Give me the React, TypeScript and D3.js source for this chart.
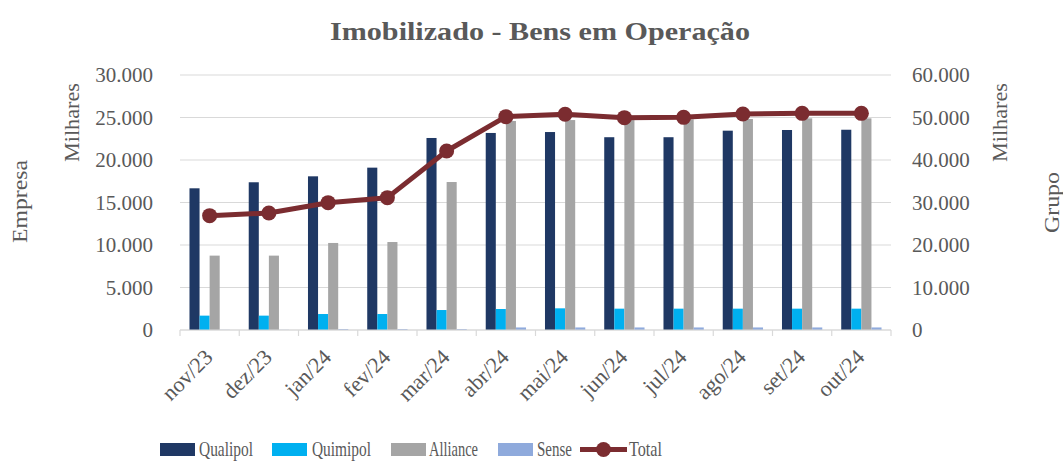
import React from "react";
import * as d3 from "d3";

const categories = ["nov/23","dez/23","jan/24","fev/24","mar/24","abr/24","mai/24","jun/24","jul/24","ago/24","set/24","out/24"];
const qualipol = [16670,17380,18080,19100,22590,23180,23290,22680,22680,23450,23530,23560];
const quimipol = [1690,1690,1880,1880,2350,2470,2550,2510,2510,2510,2510,2510];
const alliance = [8750,8750,10240,10350,17410,24590,24700,24700,24780,24820,24900,24900];
const sense = [20,20,100,100,100,300,300,300,300,300,300,300];
const total = [26900,27530,29960,31140,42120,50200,50750,49960,50040,50820,50980,50980];
const leftTicks = [0,5000,10000,15000,20000,25000,30000];
const rightTicks = [0,10000,20000,30000,40000,50000,60000];

const seriesNames = ["Qualipol","Quimipol","Alliance","Sense"];
const seriesColors = ["#1F3864","#00B0F0","#A5A5A5","#8FAADC"];
const lineColor = "#7B2C30";

const fmt = (v: number) => (v === 0 ? "0" : d3.format(",")(v).replace(/,/g, "."));

export default function App() {
  const W = 1063, H = 462;
  const x0 = 180, x1 = 891, yTop = 75, yBot = 330;
  const font = "'Liberation Serif', 'Times New Roman', serif";
  const textColor = "#595959";
  const x = d3.scaleBand<string>().domain(categories).range([x0, x1]).paddingInner(0).paddingOuter(0);
  const yL = d3.scaleLinear().domain([0, 30000]).range([yBot, yTop]);
  const yR = d3.scaleLinear().domain([0, 60000]).range([yBot, yTop]);
  const bw = x.bandwidth();
  const groupW = bw * 0.68;
  const sub = d3.scaleBand<number>().domain([0,1,2,3]).range([(bw - groupW) / 2, (bw + groupW) / 2]).padding(0);
  const series = [qualipol, quimipol, alliance, sense];
  const line = d3.line<number>().x((_, i) => (x(categories[i]) as number) + bw / 2).y((v) => yR(v));

  const legendItems = [
    { name: seriesNames[0], sx: 160, tx: 199, w: 54 },
    { name: seriesNames[1], sx: 272, tx: 312, w: 59 },
    { name: seriesNames[2], sx: 391, tx: 429, w: 49 },
    { name: seriesNames[3], sx: 498, tx: 537, w: 35 },
  ];
  const legY = 456;

  return (
    <svg width={W} height={H} style={{ position: "absolute", left: 0, top: 0, background: "#fff" }} fontFamily={font}>
      <rect width={W} height={H} fill="#fff" />
      <text x={330} y={40} textLength={420} lengthAdjust="spacingAndGlyphs" fontSize={26} fontWeight="bold" fill={textColor}>
        Imobilizado - Bens em Operação
      </text>
      {leftTicks.map((t) => (
        <line key={"g" + t} x1={x0} x2={x1} y1={yL(t)} y2={yL(t)} stroke="#D9D9D9" strokeWidth={1.2} />
      ))}
      {leftTicks.map((t) => (
        <text key={"l" + t} x={153} y={yL(t)} dy="0.35em" textAnchor="end" fontSize={21} fill={textColor}>{fmt(t)}</text>
      ))}
      {rightTicks.map((t) => (
        <text key={"r" + t} x={912} y={yR(t)} dy="0.35em" textAnchor="start" fontSize={21} fill={textColor}>{fmt(t)}</text>
      ))}
      <text transform={`translate(79,162) rotate(-90)`} textLength={79} lengthAdjust="spacingAndGlyphs" fontSize={21} fill={textColor}>Milhares</text>
      <text transform={`translate(27,243) rotate(-90)`} textLength={83} lengthAdjust="spacingAndGlyphs" fontSize={21} fill={textColor}>Empresa</text>
      <text transform={`translate(1007,162) rotate(-90)`} textLength={79} lengthAdjust="spacingAndGlyphs" fontSize={21} fill={textColor}>Milhares</text>
      <text transform={`translate(1059,233) rotate(-90)`} textLength={61} lengthAdjust="spacingAndGlyphs" fontSize={21} fill={textColor}>Grupo</text>
      {series.map((vals, si) =>
        vals.map((v, i) => (
          <rect
            key={si + "-" + i}
            x={(x(categories[i]) as number) + (sub(si) as number)}
            y={yL(v)}
            width={sub.bandwidth()}
            height={yBot - yL(v)}
            fill={seriesColors[si]}
          />
        ))
      )}
      <line x1={x0} x2={x1} y1={yBot} y2={yBot} stroke="#D9D9D9" strokeWidth={1.2} />
      {d3.range(categories.length + 1).map((i) => (
        <line key={"t" + i} x1={x0 + i * bw} x2={x0 + i * bw} y1={yBot} y2={yBot + 6} stroke="#D9D9D9" strokeWidth={1.2} />
      ))}
      {categories.map((c) => (
        <text
          key={c}
          transform={`translate(${(x(c) as number) + bw / 2 - 1},${yBot + 23}) rotate(-45)`}
          textAnchor="end"
          dy="0.35em"
          fontSize={22}
          fill={textColor}
        >{c}</text>
      ))}
      <path d={line(total) || ""} fill="none" stroke={lineColor} strokeWidth={5} strokeLinejoin="round" />
      {total.map((v, i) => (
        <circle key={"c" + i} cx={(x(categories[i]) as number) + bw / 2} cy={yR(v)} r={7.5} fill={lineColor} />
      ))}
      {legendItems.map((it, i) => (
        <g key={it.name}>
          <rect x={it.sx} y={legY - 13} width={35} height={13} fill={seriesColors[i]} />
          <text x={it.tx} y={legY} textLength={it.w} lengthAdjust="spacingAndGlyphs" fontSize={22} fill={textColor}>{it.name}</text>
        </g>
      ))}
      <line x1={580} x2={627} y1={legY - 6.5} y2={legY - 6.5} stroke={lineColor} strokeWidth={5} />
      <circle cx={603.5} cy={legY - 6.5} r={7.5} fill={lineColor} />
      <text x={629} y={legY} textLength={33} lengthAdjust="spacingAndGlyphs" fontSize={22} fill={textColor}>Total</text>
    </svg>
  );
}
